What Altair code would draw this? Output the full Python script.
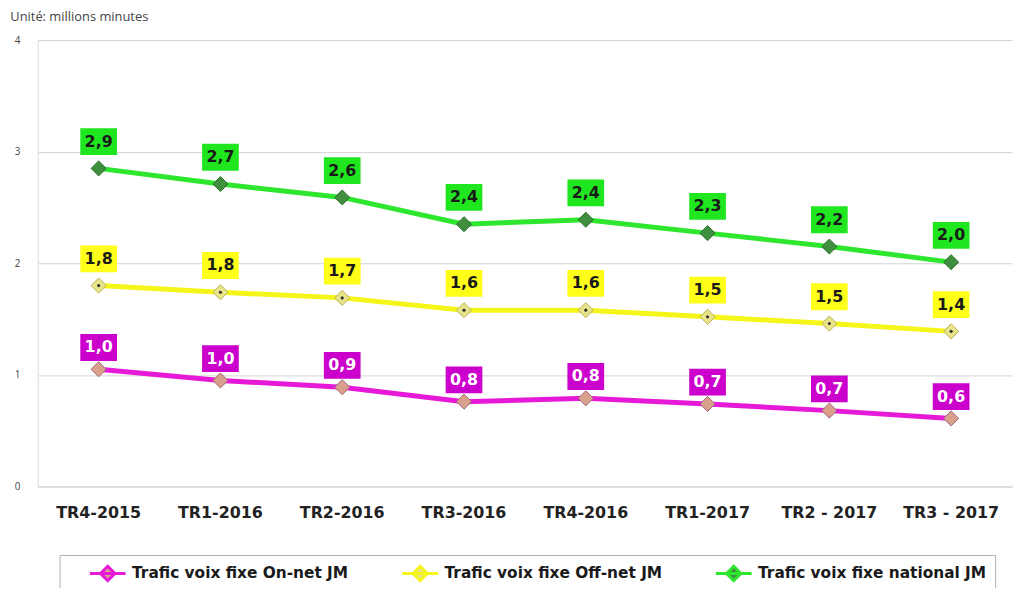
import altair as alt
import pandas as pd

categories = ["TR4-2015", "TR1-2016", "TR2-2016", "TR3-2016", "TR4-2016",
              "TR1-2017", "TR2 - 2017", "TR3 - 2017"]
series_names = ["Trafic voix fixe On-net JM", "Trafic voix fixe Off-net JM",
                "Trafic voix fixe national JM"]

on_net = [1.05, 0.95, 0.89, 0.76, 0.79, 0.74, 0.68, 0.61]
on_net_labels = ["1,0", "1,0", "0,9", "0,8", "0,8", "0,7", "0,7", "0,6"]
off_net = [1.80, 1.74, 1.69, 1.58, 1.58, 1.52, 1.46, 1.39]
off_net_labels = ["1,8", "1,8", "1,7", "1,6", "1,6", "1,5", "1,5", "1,4"]
national = [2.85, 2.71, 2.59, 2.35, 2.39, 2.27, 2.15, 2.01]
national_labels = ["2,9", "2,7", "2,6", "2,4", "2,4", "2,3", "2,2", "2,0"]

line_colors = ["#e619d9", "#f5f51a", "#2ee62e"]
box_colors = ["#cc00cc", "#ffff1a", "#1fe61f"]
text_colors = ["#ffffff", "#1a1a1a", "#1a1a1a"]
marker_fill = ["#d9a08c", "#e8e48a", "#3f8f3f"]
marker_stroke = ["#a0607a", "#b8b050", "#2e6e2e"]
label_offsets = [-22, -27, -27]

values = [on_net, off_net, national]
labels = [on_net_labels, off_net_labels, national_labels]

rows = []
for s, vals, labs in zip(series_names, values, labels):
    for c, v, l in zip(categories, vals, labs):
        rows.append({"cat": c, "series": s, "value": v, "label": l})
df = pd.DataFrame(rows)

x_enc = alt.X("cat:N", sort=categories, bandPosition=0.5,
              scale=alt.Scale(type="band", paddingInner=0, paddingOuter=0),
              axis=alt.Axis(title=None, labelAngle=0, labelFontSize=16,
                            labelFontWeight="bold", labelColor="#222222",
                            labelFont="DejaVu Sans", labelPadding=18,
                            ticks=False, domain=True, domainColor="#d0d0d0"))
y_enc = alt.Y("value:Q", scale=alt.Scale(domain=[0, 4], nice=False, zero=True),
              axis=alt.Axis(title=None, values=[0, 1, 2, 3, 4], grid=True,
                            gridColor="#d2d2d2", domain=True, domainColor="#dadada",
                            ticks=False, labelFontSize=10, labelColor="#444444",
                            labelFont="Open Sans", labelPadding=18))

base = alt.Chart(df)

lines = base.mark_line(strokeWidth=5).encode(
    x=x_enc, y=y_enc,
    color=alt.Color("series:N", sort=series_names,
                    scale=alt.Scale(domain=series_names, range=line_colors),
                    legend=alt.Legend(
                        title=None, orient="none", direction="horizontal",
                        legendX=22, legendY=519,
                        symbolType="M-2,0L2,0M0,-0.8L0.8,0L0,0.8L-0.8,0Z",
                        symbolSize=324, symbolStrokeWidth=3,
                        labelFontSize=15.5, labelFontWeight="bold",
                        labelFont="DejaVu Sans", labelColor="#1a1a1a",
                        labelLimit=400, columnPadding=31, padding=8,
                        labelOffset=14, symbolOffset=30,
                        strokeColor="#b0b0b0", fillColor="#ffffff")),
)

markers = base.mark_point(shape="diamond", size=230, filled=True, strokeWidth=1, opacity=1).encode(
    x=x_enc, y=y_enc,
    fill=alt.Fill("series:N", scale=alt.Scale(domain=series_names, range=marker_fill), legend=None),
    stroke=alt.Stroke("series:N", scale=alt.Scale(domain=series_names, range=marker_stroke), legend=None),
)

dots = base.transform_filter(alt.datum.series == series_names[1]).mark_point(
    shape="circle", size=10, filled=True, color="#333333", opacity=1).encode(x=x_enc, y=y_enc)

layers = [lines, markers, dots]
for i, s in enumerate(series_names):
    sub = base.transform_filter(alt.datum.series == s)
    box = sub.mark_point(shape="M-1.37,-1L1.37,-1L1.37,1L-1.37,1Z", size=729,
                         filled=True, opacity=1, color=box_colors[i],
                         yOffset=label_offsets[i]).encode(x=x_enc, y=y_enc)
    txt = sub.mark_text(fontSize=16, fontWeight="bold", font="DejaVu Sans",
                        color=text_colors[i], baseline="middle", align="center",
                        yOffset=label_offsets[i]).encode(x=x_enc, y=y_enc, text="label:N")
    layers += [box, txt]

chart = alt.layer(*layers).properties(
    width=982, height=450,
    autosize=alt.AutoSizeParams(type="none"),
    padding={"left": 30, "top": 30, "right": 2, "bottom": 100},
    title=alt.TitleParams("Unité: millions minutes", anchor="start", fontSize=13,
                          fontWeight="normal", color="#444444", font="Open Sans",
                          dx=-4, offset=11),
).configure_view(stroke=None)

chart.save("out.html", embed_options={"renderer": "svg", "actions": False})
